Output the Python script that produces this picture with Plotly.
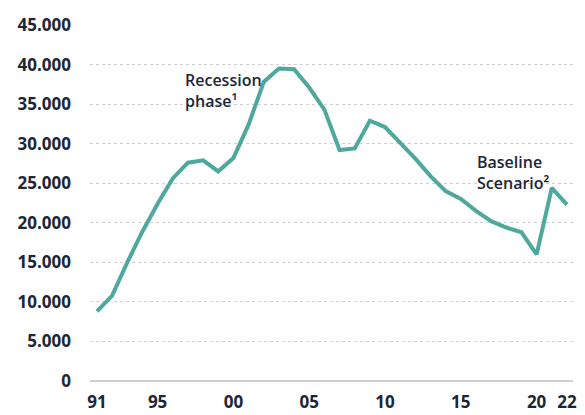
import plotly.graph_objects as go

years = list(range(1991, 2023))
values = [8800, 10800, 15000, 18900, 22400, 25600, 27600, 27900, 26500, 28200,
          32400, 37800, 39500, 39400, 37100, 34300, 29200, 29400, 32900, 32100,
          30100, 28100, 25900, 24000, 23000, 21500, 20200, 19400, 18800, 16000,
          24400, 22300]
tick_years = [1991, 1995, 2000, 2005, 2010, 2015, 2020, 2022]
tick_text = ["91", "95", "00", "05", "10", "15", "20", "22"]
y_ticks = list(range(0, 45001, 5000))
y_text = ["0"] + [f"{v // 1000}.000" for v in y_ticks[1:]]

txt = "#1c2637"
fig = go.Figure()
fig.add_trace(go.Scatter(x=years, y=values, mode="lines",
                         line=dict(color="#4fa89e", width=4),
                         hoverinfo="skip", showlegend=False))

fig.add_annotation(x=1996.65, y=39700, text="Recession<br>phase¹", showarrow=False,
                   xanchor="left", yanchor="top", align="left",
                   font=dict(family="Open Sans", size=16, color=txt, weight=600))
fig.add_annotation(x=2015.95, y=29300, text="Baseline<br>Scenario²", showarrow=False,
                   xanchor="left", yanchor="top", align="left",
                   font=dict(family="Open Sans", size=16, color=txt, weight=600))

fig.update_layout(
    width=585, height=415,
    margin=dict(l=90, r=12, t=25, b=34),
    paper_bgcolor="white", plot_bgcolor="white",
    xaxis=dict(range=[1990.54, 2022.4], tickvals=tick_years, ticktext=tick_text,
               showgrid=False, zeroline=False, showline=False, ticks="",
               ticklabelstandoff=9, automargin=False,
               tickfont=dict(family="Open Sans", size=17, color=txt, weight="bold")),
    yaxis=dict(range=[0, 45000], tickvals=y_ticks, ticktext=y_text,
               showgrid=True, gridcolor="#cfcfcf", griddash="dot", gridwidth=1,
               zeroline=True, zerolinecolor="#cfcfcf", zerolinewidth=1.5,
               showline=False, ticks="", ticklabelstandoff=18, automargin=False,
               tickfont=dict(family="Open Sans", size=17, color=txt, weight="bold")),
)

fig.write_html("out.html")
